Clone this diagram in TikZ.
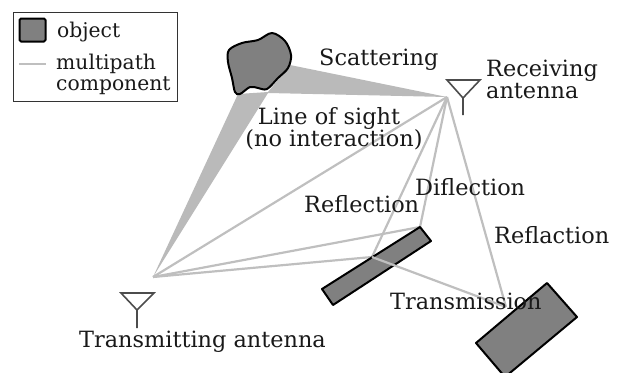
\documentclass[tikz,border=0pt]{standalone}
\usepackage{fontspec}
\setmainfont{DejaVu Serif}
\usepackage{tikz}
\usetikzlibrary{positioning}

\begin{document}
\begin{tikzpicture}[
    x=1pt, y=-1pt,
    objectshape/.style={draw=black, line width=2pt, fill=black!50, line join=round},
    raypath/.style={draw=black!25, line width=2.2pt},
    raywedge/.style={fill=black!27},
    antenna/.style={draw=black!70, line width=1.6pt},
    txtlabel/.style={font=\fontsize{22.4}{24}\selectfont, text=black!90, inner sep=0pt, align=left},
    keylabel/.style={txtlabel, font=\fontsize{20.3}{22}\selectfont}
]
\useasboundingbox (0,0) rectangle (623,372);

% corner points
\coordinate (tx) at (153,277);
\coordinate (rx) at (447,97);
\coordinate (refl1) at (420,227);
\coordinate (refl2) at (372,257);
\coordinate (hit) at (506,307);

% scattering
\fill[raywedge] (tx) -- (238,94) -- (268,92) -- (290,65) -- (rx) -- (268,93) -- cycle;

% multipath
\draw[raypath] (tx) -- (rx);
\draw[raypath] (tx) -- (refl1) -- (rx);
\draw[raypath] (tx) -- (refl2) -- (rx);
\draw[raypath] (rx) -- (hit);

% objects
\draw[objectshape] plot[smooth cycle, tension=0.55] coordinates {(229,50) (242,43) (258,40) (272,33) (285,41) (291,55) (288,68) (278,78) (267,89) (258,88) (250,87) (240,94) (235,92) (232,78) (228,62)};
\draw[objectshape] (322,289) -- (420,227) -- (431,241) -- (333,305) -- cycle;
\draw[objectshape] (476,343) -- (547,283) -- (577,317) -- (505,377) -- cycle;
\draw[raypath] (refl2) -- (hit);

% antennas
\draw[antenna] (447,80) -- (480,80) -- (463,98) -- cycle (463,98) -- (463,115);
\draw[antenna] (121,293) -- (154,293) -- (137,310) -- cycle (137,310) -- (137,328);

% legend
\node[draw=black!80, line width=0.9pt, minimum width=164pt, minimum height=89pt, anchor=north west, inner sep=0pt] (legend) at (13,12) {};
\node[objectshape, rounded corners=1.5pt, minimum width=26pt, minimum height=23pt, inner sep=0pt] (objkey) at (32.5,30) {};
\coordinate (keyl) at (19,64);
\coordinate (keyr) at (46,64);
\draw[raypath] (keyl) -- (keyr);
\node[keylabel, anchor=base west] (objtext) at (57,37) {object};
\node[keylabel, anchor=base west] (mptext) at (56,69) {multipath};
\node[keylabel, anchor=base west] (comptext) at (56,90) {component};

% labels
\node[txtlabel, anchor=base west] (scat) at (319,65) {Scattering};
\node[txtlabel, anchor=base west] (recv) at (486,76) {Receiving};
\node[txtlabel, anchor=base west] (recv2) at (486,98) {antenna};
\node[txtlabel, anchor=base, align=center] (los) at (329,124) {Line of sight};
\node[txtlabel, anchor=base, align=center] (los2) at (334,146) {(no interaction)};
\node[txtlabel, anchor=base west] (difl) at (415,195) {Diflection};
\node[txtlabel, anchor=base west] (refl) at (304,212) {Reflection};
\node[txtlabel, anchor=base west] (refr) at (494,243) {Reflaction};
\node[txtlabel, anchor=base west] (trans) at (390,309) {Transmission};
\node[txtlabel, anchor=base west] (txt) at (79,347) {Transmitting antenna};
\end{tikzpicture}
\end{document}
